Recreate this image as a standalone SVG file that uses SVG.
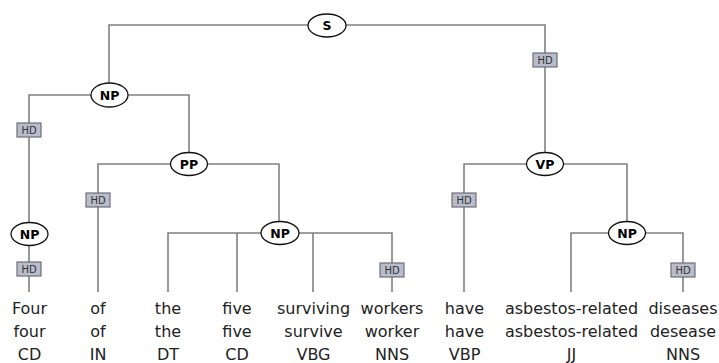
<svg xmlns="http://www.w3.org/2000/svg" width="719" height="363" viewBox="0 0 719 363">
<style>
.e{fill:none;stroke:#808080;stroke-width:1.6}
.hd rect{fill:#b8bccb;stroke:#6e6e78;stroke-width:1.2}
.hd text{font-family:"DejaVu Sans",sans-serif;font-size:10px;fill:#333;text-anchor:middle}
.n ellipse{fill:#fff;stroke:#111;stroke-width:1.3}
.n text{font-family:"DejaVu Sans",sans-serif;font-size:12.5px;font-weight:bold;fill:#000;text-anchor:middle}
.w text{font-family:"DejaVu Sans",sans-serif;font-size:16px;fill:#222;text-anchor:middle}
</style>
<g id="connectors">
<path class="e" d="M109 83V25H545V152"/>
<path class="e" d="M29 222V95H189V152"/>
<path class="e" d="M98 292V164H279V221"/>
<path class="e" d="M29 246V292"/>
<path class="e" d="M168 292V233H392V292M237 233V292M313 233V292"/>
<path class="e" d="M464 292V164H627V221"/>
<path class="e" d="M571 292V233H683V292"/>
<g class="hd"><rect x="533" y="53" width="24" height="14"/><text x="545" y="64">HD</text></g>
<g class="hd"><rect x="17" y="123" width="24" height="14"/><text x="29" y="134">HD</text></g>
<g class="hd"><rect x="86" y="193" width="24" height="14"/><text x="98" y="204">HD</text></g>
<g class="hd"><rect x="17" y="262" width="24" height="14"/><text x="29" y="273">HD</text></g>
<g class="hd"><rect x="380" y="263" width="24" height="14"/><text x="392" y="274">HD</text></g>
<g class="hd"><rect x="452" y="193" width="24" height="14"/><text x="464" y="204">HD</text></g>
<g class="hd"><rect x="671" y="263" width="24" height="14"/><text x="683" y="274">HD</text></g>
</g>
<g id="S" class="n"><ellipse cx="327" cy="25.5" rx="19" ry="11.5"/><text x="327" y="30">S</text></g>
<g id="NP1" class="n"><ellipse cx="109.5" cy="95" rx="18.5" ry="12"/><text x="109.5" y="99.5">NP</text></g>
<g id="PP" class="n"><ellipse cx="189" cy="164" rx="18.5" ry="11.5"/><text x="189" y="168.5">PP</text></g>
<g id="VP" class="n"><ellipse cx="545" cy="164" rx="18.5" ry="11.5"/><text x="545" y="168.5">VP</text></g>
<g id="NP2" class="n"><ellipse cx="29.5" cy="234" rx="18.5" ry="11.5"/><text x="29.5" y="238.5">NP</text></g>
<g id="NP3" class="n"><ellipse cx="280" cy="233" rx="19" ry="11.5"/><text x="280" y="237.5">NP</text></g>
<g id="NP4" class="n"><ellipse cx="627" cy="233" rx="18.5" ry="11.5"/><text x="627" y="237.5">NP</text></g>
<g id="w1" class="w"><text x="29.5" y="313.5">Four</text><text x="29.5" y="336.5">four</text><text x="29.5" y="359.5">CD</text></g>
<g id="w2" class="w"><text x="98" y="313.5">of</text><text x="98" y="336.5">of</text><text x="98" y="359.5">IN</text></g>
<g id="w3" class="w"><text x="168" y="313.5">the</text><text x="168" y="336.5">the</text><text x="168" y="359.5">DT</text></g>
<g id="w4" class="w"><text x="237" y="313.5">five</text><text x="237" y="336.5">five</text><text x="237" y="359.5">CD</text></g>
<g id="w5" class="w"><text x="313.5" y="313.5">surviving</text><text x="313.5" y="336.5">survive</text><text x="313.5" y="359.5">VBG</text></g>
<g id="w6" class="w"><text x="392" y="313.5">workers</text><text x="392" y="336.5">worker</text><text x="392" y="359.5">NNS</text></g>
<g id="w7" class="w"><text x="464.5" y="313.5">have</text><text x="464.5" y="336.5">have</text><text x="464.5" y="359.5">VBP</text></g>
<g id="w8" class="w"><text x="571.5" y="313.5">asbestos-related</text><text x="571.5" y="336.5">asbestos-related</text><text x="571.5" y="359.5">JJ</text></g>
<g id="w9" class="w"><text x="683" y="313.5">diseases</text><text x="683" y="336.5">desease</text><text x="683" y="359.5">NNS</text></g>
</svg>
